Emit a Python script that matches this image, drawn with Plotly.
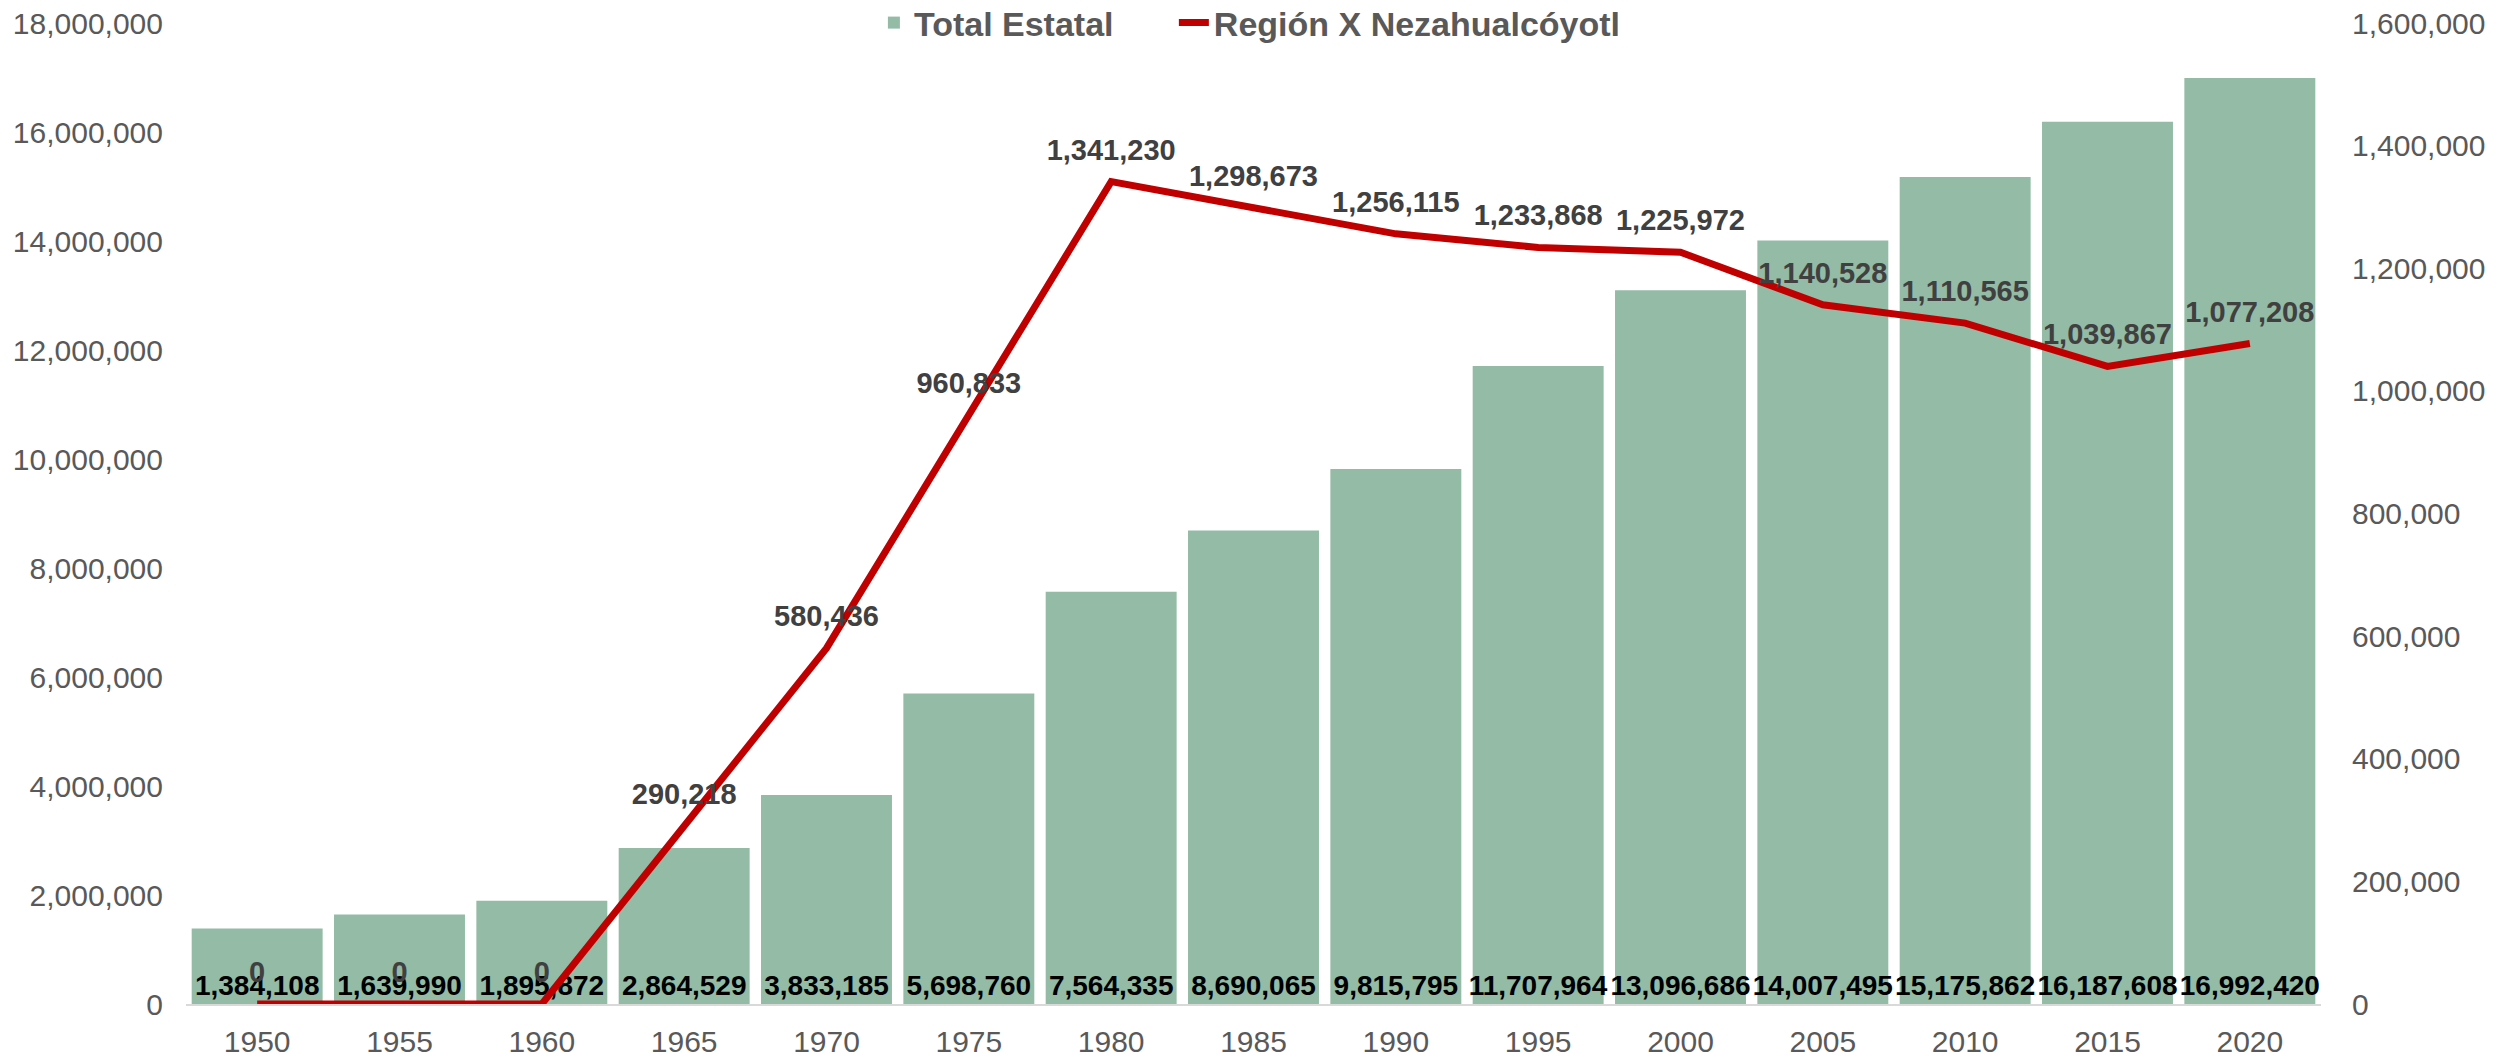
import plotly.graph_objects as go

years = ["1950", "1955", "1960", "1965", "1970", "1975", "1980", "1985",
         "1990", "1995", "2000", "2005", "2010", "2015", "2020"]
total_estatal = [1384108, 1639990, 1895872, 2864529, 3833185, 5698760, 7564335,
                 8690065, 9815795, 11707964, 13096686, 14007495, 15175862,
                 16187608, 16992420]
region_x = [0, 0, 0, 290218, 580436, 960833, 1341230, 1298673, 1256115,
            1233868, 1225972, 1140528, 1110565, 1039867, 1077208]

left_ticks = list(range(0, 18000001, 2000000))
right_ticks = list(range(0, 1600001, 200000))

FONT = "Liberation Sans, Arial, sans-serif"
GRAY = "#595959"

fig = go.Figure()

fig.add_trace(go.Bar(
    x=years, y=total_estatal, name="Total Estatal", legend="legend",
    marker=dict(color="#93BBA5", line=dict(width=0)),
    text=[f"{v:,}" for v in total_estatal],
    textposition="inside", insidetextanchor="start", textangle=0,
    constraintext="none",
    textfont=dict(family=FONT, size=28, color="#000000", weight="bold"),
    cliponaxis=False,
))

fig.add_trace(go.Scatter(
    x=years, y=region_x, name="Región X Nezahualcóyotl", yaxis="y2",
    legend="legend2",
    mode="lines+markers+text",
    line=dict(color="#C00000", width=7),
    marker=dict(size=22, color="rgba(0,0,0,0)"),
    text=[f"{v:,}" for v in region_x],
    textposition="top center",
    textfont=dict(family=FONT, size=29, color="#404040", weight="bold"),
    cliponaxis=False,
))

legend_common = dict(orientation="h", y=1.0, yanchor="middle",
                     font=dict(family=FONT, size=34, color=GRAY, weight="bold"),
                     bgcolor="rgba(0,0,0,0)", borderwidth=0)

fig.update_layout(
    width=2520, height=1058,
    margin=dict(l=186, r=199, t=23, b=54, autoexpand=False),
    paper_bgcolor="white", plot_bgcolor="white",
    bargap=0.08,
    showlegend=True,
    legend=dict(x=0.3222, xanchor="left", **legend_common),
    legend2=dict(x=0.4627, xanchor="left", **legend_common),
    xaxis=dict(type="category", categoryorder="array", categoryarray=years,
               range=[-0.5, len(years) - 0.5],
               showgrid=False, showline=True, linecolor="#D9D9D9", linewidth=2,
               ticks="", tickfont=dict(family=FONT, size=30, color=GRAY),
               ticklabelstandoff=10, zeroline=False),
    yaxis=dict(range=[0, 18000000], tickvals=left_ticks,
               ticktext=[f"{v:,}" for v in left_ticks],
               showgrid=False, zeroline=False, showline=False, ticks="",
               tickfont=dict(family=FONT, size=30, color=GRAY),
               ticklabelstandoff=22),
    yaxis2=dict(range=[0, 1600000], tickvals=right_ticks,
                ticktext=[f"{v:,}" for v in right_ticks],
                overlaying="y", side="right",
                showgrid=False, zeroline=False, showline=False, ticks="",
                tickfont=dict(family=FONT, size=30, color=GRAY),
                ticklabelstandoff=30),
)

fig.write_html("out.html", config={"displayModeBar": False},
               post_script="document.body.style.margin='0';document.body.style.overflow='hidden';")
